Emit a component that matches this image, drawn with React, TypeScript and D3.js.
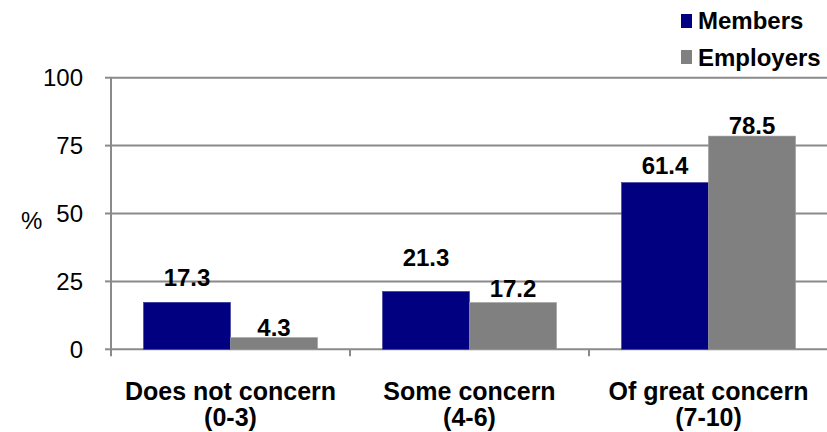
import React from "react";
import * as d3 from "d3";

const categories = ["Does not concern|(0-3)", "Some concern|(4-6)", "Of great concern|(7-10)"];
const seriesNames = ["Members", "Employers"];
const members = [17.3, 21.3, 61.4];
const employers = [4.3, 17.2, 78.5];
const yTicks = [0, 25, 50, 75, 100];
const colors = ["#000080", "#808080"];
// label gap above bar top (px), per series per category
const labelGaps = [
  [16, 25, 9],
  [2, 5.5, 2],
];

const W = 827;
const H = 432;
const left = 111;
const right = 828;
const yTop = 77.7;
const yBottom = 349.3;

export default function App() {
  const x0 = d3.scaleBand<string>().domain(categories).range([left, right]).padding(0);
  const x1 = d3
    .scaleBand<string>()
    .domain(seriesNames)
    .range([0, x0.bandwidth()])
    .paddingInner(0)
    .paddingOuter(0.3736);
  const y = d3.scaleLinear().domain([0, 100]).range([yBottom, yTop]);
  const values = [members, employers];
  const font = "Arial, 'Liberation Sans', sans-serif";
  const boundaries = [...categories.map((c) => x0(c) as number), right];

  return (
    <svg
      width={W}
      height={H}
      style={{ position: "absolute", left: 0, top: 0, background: "#fff" }}
      fontFamily={font}
    >
      {/* gridlines */}
      {yTicks.map((t) => (
        <g key={t}>
          <line x1={left} x2={W} y1={y(t)} y2={y(t)} stroke="#8a8a8a" strokeWidth={2} />
          <line x1={left - 6} x2={left} y1={y(t)} y2={y(t)} stroke="#8a8a8a" strokeWidth={2} />
          <text x={83} y={y(t)} dy="0.36em" textAnchor="end" fontSize={24} fill="#000">
            {t}
          </text>
        </g>
      ))}
      {/* y axis */}
      <line x1={left} x2={left} y1={yTop} y2={yBottom + 1} stroke="#8a8a8a" strokeWidth={2} />
      <text x={21} y={229} fontSize={24} fill="#000">%</text>
      {/* x ticks */}
      {boundaries.map((b, i) => (
        <line key={i} x1={b} x2={b} y1={yBottom} y2={yBottom + 7} stroke="#8a8a8a" strokeWidth={2} />
      ))}
      {/* bars */}
      {categories.map((c, ci) =>
        seriesNames.map((s, si) => {
          const v = values[si][ci];
          const bx = (x0(c) as number) + (x1(s) as number);
          const bw = x1.bandwidth();
          return (
            <g key={c + s}>
              <rect
                x={bx}
                y={y(v)}
                width={bw}
                height={y(0) - y(v)}
                fill={colors[si]}
                stroke={si === 0 ? "#3a3a9a" : "#9a9a9a"}
                strokeWidth={0.6}
              />
              <text
                x={bx + bw / 2}
                y={y(v) - labelGaps[si][ci]}
                textAnchor="middle"
                fontSize={24}
                fontWeight="bold"
                fill="#000"
              >
                {v.toFixed(1)}
              </text>
            </g>
          );
        })
      )}
      {/* category labels */}
      {categories.map((c) => {
        const [l1, l2] = c.split("|");
        const cx = (x0(c) as number) + x0.bandwidth() / 2;
        return (
          <text key={c} x={cx} textAnchor="middle" fontSize={25} fontWeight="bold" fill="#000">
            <tspan x={cx} y={400}>{l1}</tspan>
            <tspan x={cx} y={426}>{l2}</tspan>
          </text>
        );
      })}
      {/* legend */}
      {seriesNames.map((s, i) => (
        <g key={s}>
          <rect x={681} y={14 + i * 36} width={11} height={14} fill={colors[i]} />
          <text x={698} y={29 + i * 36.5} fontSize={24} fontWeight="bold" fill="#000">
            {s}
          </text>
        </g>
      ))}
    </svg>
  );
}
